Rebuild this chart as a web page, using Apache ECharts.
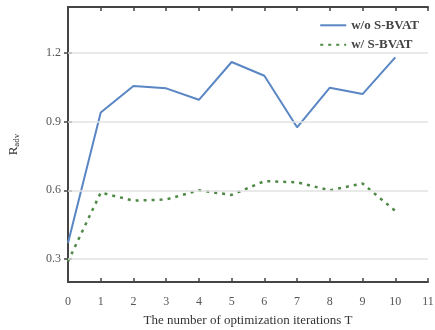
<!doctype html>
<html>
<head>
<script src="https://cdn.jsdelivr.net/npm/echarts@6/dist/echarts.min.js"></script>
<style>
  html, body { margin: 0; padding: 0; background: #fff; }
  #main { width: 435px; height: 330px; }
</style>
</head>
<body>
<div id="main"></div>
<script>
  var iterations = [0, 1, 2, 3, 4, 5, 6, 7, 8, 9, 10];
  var withoutBVAT = [0.37, 0.94, 1.055, 1.045, 0.995, 1.16, 1.10, 0.875, 1.048, 1.02, 1.18];
  var withBVAT = [0.29, 0.59, 0.555, 0.56, 0.60, 0.58, 0.64, 0.635, 0.60, 0.63, 0.51];
  var yTicks = [0.3, 0.6, 0.9, 1.2];

  var font = 'Liberation Serif';
  var axisColor = '#444';

  function pairs(vals) {
    return vals.map(function (v, i) { return [iterations[i], v]; });
  }

  var chart = echarts.init(document.getElementById('main'));
  chart.setOption({
    backgroundColor: '#fff',
    animation: false,
    grid: { left: 68, right: 7, top: 7, bottom: 48, outerBoundsMode: 'none' },
    legend: {
      right: 14, top: 13, orient: 'vertical', padding: 2, align: 'left',
      itemWidth: 26, itemHeight: 8, itemGap: -1,
      itemStyle: { color: 'transparent', borderWidth: 0 },
      textStyle: { fontFamily: font, fontSize: 13, lineHeight: 14, color: '#444', fontWeight: 'bold' },
      data: ['w/o S-BVAT', 'w/ S-BVAT']
    },
    xAxis: [{
      type: 'value', min: 0, max: 11, interval: 1,
      name: 'The number of optimization iterations T',
      nameLocation: 'middle', nameGap: 29, nameMoveOverlap: false,
      nameTextStyle: { fontFamily: font, fontSize: 13, color: '#333' },
      axisLine: { lineStyle: { color: axisColor, width: 2 } },
      axisTick: { inside: true, length: 4, lineStyle: { color: axisColor, width: 1.5 } },
      axisLabel: { fontFamily: font, fontSize: 12, color: '#555', margin: 11 },
      splitLine: { show: false }
    }, {
      type: 'value', min: 0, max: 11, interval: 1, position: 'top',
      axisLine: { lineStyle: { color: axisColor, width: 2 } },
      axisTick: { inside: true, length: 4, lineStyle: { color: axisColor, width: 1.5 } },
      axisLabel: { show: false },
      splitLine: { show: false }
    }],
    yAxis: [{
      type: 'value', min: 0.2, max: 1.4,
      name: '{r|R}{s|adv}',
      nameLocation: 'middle', nameGap: 44, nameRotate: 90,
      nameTextStyle: {
        rich: {
          r: { fontFamily: font, fontSize: 13, color: '#333' },
          s: { fontFamily: font, fontSize: 9, color: '#333', verticalAlign: 'bottom', padding: [6, 0, 0, 0] }
        }
      },
      axisLine: { lineStyle: { color: axisColor, width: 2 } },
      axisTick: { inside: true, length: 4, customValues: yTicks, lineStyle: { color: axisColor, width: 1.5 } },
      axisLabel: { fontFamily: font, fontSize: 12, color: '#555', margin: 7, customValues: yTicks,
        formatter: function (v) { return v.toFixed(1); } },
      splitLine: { show: false }
    }, {
      type: 'value', min: 0.2, max: 1.4, position: 'right',
      axisLine: { lineStyle: { color: axisColor, width: 2 } },
      axisTick: { inside: true, length: 4, customValues: yTicks, lineStyle: { color: axisColor, width: 1.5 } },
      axisLabel: { show: false },
      splitLine: { show: false }
    }],
    series: [{
      name: 'w/o S-BVAT', type: 'line', data: pairs(withoutBVAT),
      symbol: 'none', color: '#5a86c4',
      lineStyle: { width: 2, color: '#5a86c4' },
      markLine: {
        silent: true, symbol: 'none', label: { show: false },
        lineStyle: { color: '#e2e2e2', type: 'solid', width: 1.5 },
        data: yTicks.map(function (t) { return { yAxis: t }; })
      },
      z: 3
    }, {
      name: 'w/ S-BVAT', type: 'line', data: pairs(withBVAT),
      symbol: 'none', color: '#4e8a45',
      lineStyle: { width: 2.5, color: '#4e8a45', type: [3, 5] },
      z: 4
    }]
  });
</script>
</body>
</html>
